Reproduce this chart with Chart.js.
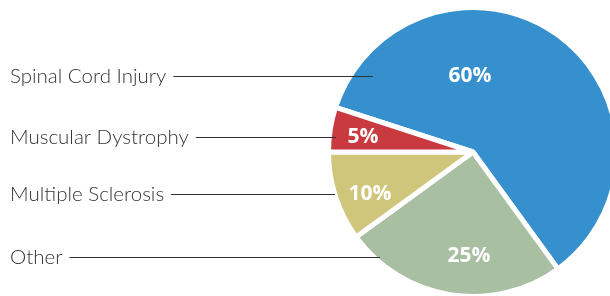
<!DOCTYPE html>
<html>
<head>
<meta charset="utf-8">
<script src="https://cdn.jsdelivr.net/npm/chart.js@4"></script>
<style>
  html, body { margin: 0; padding: 0; background: #ffffff; overflow: hidden; width: 610px; height: 296px; }
  #wrap { position: absolute; left: 0; top: 0; width: 946px; height: 300px; }
</style>
</head>
<body>
<div id="wrap"><canvas id="c" width="946" height="300"></canvas></div>
<script>
// ---- data ----
const categories = ['Spinal Cord Injury', 'Other', 'Multiple Sclerosis', 'Muscular Dystrophy'];
const shares = [60, 25, 10, 5];
const valueLabels = ['60%', '25%', '10%', '5%'];
// left-hand legend order (top to bottom)
const legendOrder = ['Spinal Cord Injury', 'Muscular Dystrophy', 'Multiple Sclerosis', 'Other'];

// ---- styles / layout ----
const colors = ['#3590cd', '#a9bfa2', '#cfc67c', '#c93a40'];
// percent label placement: angle (deg, screen) and fraction of radius
const pctPlace = [[267.8, 0.543], [92.2, 0.726], [158.3, 0.781], [188.3, 0.783]];
const legendLineY = [76, 137, 194, 257];
const legendLineEnd = [373, 336, 335, 380];

const labelPlugin = {
  id: 'labels',
  afterDatasetsDraw(chart) {
    const ctx = chart.ctx;
    const meta = chart.getDatasetMeta(0);
    const arc0 = meta.data[0];
    const cx = arc0.x, cy = arc0.y, R = arc0.outerRadius - 2.5;
    ctx.save();
    // percentages
    ctx.fillStyle = '#ffffff';
    ctx.font = 'bold 21px "Open Sans"';
    ctx.textAlign = 'center';
    ctx.textBaseline = 'middle';
    meta.data.forEach((arc, i) => {
      const a = pctPlace[i][0] * Math.PI / 180;
      const r = pctPlace[i][1] * R;
      ctx.fillText(valueLabels[i], cx + Math.cos(a) * r, cy + Math.sin(a) * r + 1);
    });
    // legend labels with leader lines
    ctx.font = '300 20.5px Lato';
    ctx.textAlign = 'left';
    ctx.textBaseline = 'alphabetic';
    legendOrder.forEach((name, j) => {
      const y = legendLineY[j];
      ctx.fillStyle = '#333333';
      ctx.fillText(name, 10, y + 6.5);
      const w = ctx.measureText(name).width;
      ctx.strokeStyle = '#333333';
      ctx.lineWidth = 1;
      ctx.beginPath();
      ctx.moveTo(10 + w + 7, y + 0.5);
      ctx.lineTo(legendLineEnd[j], y + 0.5);
      ctx.stroke();
    });
    ctx.restore();
  }
};

new Chart(document.getElementById('c'), {
  type: 'pie',
  data: {
    labels: categories,
    datasets: [{
      data: shares,
      backgroundColor: colors,
      borderColor: '#ffffff',
      borderWidth: 5,
      hoverOffset: 0
    }]
  },
  options: {
    responsive: false,
    animation: false,
    rotation: 288,
    layout: { padding: { top: 5, bottom: 1, left: 0, right: 0 } },
    plugins: { legend: { display: false }, tooltip: { enabled: false } },
    events: []
  },
  plugins: [labelPlugin]
});
</script>
</body>
</html>
